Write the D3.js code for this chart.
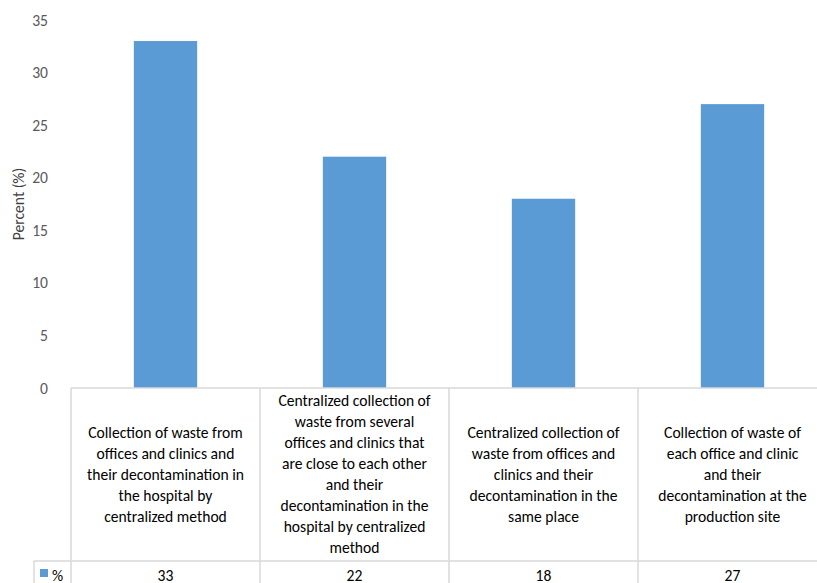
<!DOCTYPE html>
<html lang="en">
<head>
<meta charset="UTF-8"/>
<title>Percent by waste collection method</title>
<script src="https://d3js.org/d3.v7.min.js"></script>
<style>
    body { margin: 0; background: #fff; }
    text { font-family: Carlito, "Liberation Sans", sans-serif; }
</style>
</head>
<body>
<script>
    // Chart data
    var categories = [
        ["Collection of waste from", "offices and clinics and", "their decontamination in", "the hospital by", "centralized method"],
        ["Centralized collection of", "waste from several", "offices and clinics that", "are close to each other", "and their", "decontamination in the", "hospital by centralized", "method"],
        ["Centralized collection of", "waste from offices and", "clinics and their", "decontamination in the", "same place"],
        ["Collection of waste of", "each office and clinic", "and their", "decontamination at the", "production site"]
    ];
    var values = [33, 22, 18, 27];
    var yTicks = [0, 5, 10, 15, 20, 25, 30, 35];
    var seriesName = "%";

    var W = 817, H = 583;
    var plotLeft = 71, plotRight = 827, plotTop = 20, base = 388;
    var tableBottom = 561, legendLeft = 34;
    var fs = "15.6px";

    var svg = d3.select("body").append("svg")
                .attr("width", W)
                .attr("height", H);

    var xScale = d3.scaleBand()
                   .domain(d3.range(values.length))
                   .range([plotLeft, plotRight])
                   .paddingInner(0)
                   .paddingOuter(0);

    var yScale = d3.scaleLinear()
                   .domain([0, 35])
                   .range([base, plotTop]);

    var barW = xScale.bandwidth() * 0.335;

    // y axis labels (no line)
    var yAxis = d3.axisLeft(yScale).tickValues(yTicks).tickSize(0).tickPadding(0);
    var yg = svg.append("g")
                .attr("transform", "translate(" + 48 + ",0)")
                .call(yAxis);
    yg.select(".domain").remove();
    yg.selectAll("text")
      .attr("fill", "#595959")
      .style("font-size", fs)
      .style("font-family", "Carlito, 'Liberation Sans', sans-serif");

    svg.append("text")
       .attr("transform", "translate(24," + ((plotTop + base) / 2) + ") rotate(-90)")
       .attr("text-anchor", "middle")
       .attr("fill", "#404040")
       .style("font-size", fs)
       .text("Percent (%)");

    // bars
    svg.selectAll("rect.bar")
       .data(values)
       .enter()
       .append("rect")
       .attr("class", "bar")
       .attr("x", function(d, i) { return xScale(i) + (xScale.bandwidth() - barW) / 2; })
       .attr("y", function(d) { return yScale(d); })
       .attr("width", barW)
       .attr("height", function(d) { return base - yScale(d); })
       .attr("fill", "#5B9BD5");

    // data table grid
    var grid = svg.append("g").attr("stroke", "#d9d9d9").attr("stroke-width", 1.5);
    grid.append("line").attr("x1", plotLeft).attr("x2", plotRight).attr("y1", base).attr("y2", base);
    grid.append("line").attr("x1", legendLeft).attr("x2", plotRight).attr("y1", tableBottom).attr("y2", tableBottom);
    grid.append("line").attr("x1", legendLeft).attr("x2", legendLeft).attr("y1", tableBottom).attr("y2", H + 5);
    d3.range(values.length + 1).forEach(function(i) {
        var x = i < values.length ? xScale(i) : plotRight;
        grid.append("line").attr("x1", x).attr("x2", x).attr("y1", base).attr("y2", H + 5);
    });

    // category labels
    var lineH = 21;
    var midY = (base + tableBottom) / 2;
    categories.forEach(function(lines, i) {
        var cx = xScale(i) + xScale.bandwidth() / 2;
        var t = svg.append("text")
                   .attr("text-anchor", "middle")
                   .attr("fill", "#000")
                   .style("font-size", fs);
        lines.forEach(function(s, j) {
            t.append("tspan")
             .attr("x", cx)
             .attr("y", midY + (j - (lines.length - 1) / 2) * lineH + 5)
             .text(s);
        });
    });

    // values row
    svg.selectAll("text.val")
       .data(values)
       .enter()
       .append("text")
       .attr("class", "val")
       .attr("x", function(d, i) { return xScale(i) + xScale.bandwidth() / 2; })
       .attr("y", 581)
       .attr("text-anchor", "middle")
       .attr("fill", "#000")
       .style("font-size", fs)
       .text(function(d) { return d; });

    // legend key
    svg.append("rect")
       .attr("x", 40).attr("y", 569).attr("width", 8).attr("height", 8)
       .attr("fill", "#5B9BD5");
    svg.append("text")
       .attr("x", 52).attr("y", 581)
       .attr("fill", "#000")
       .style("font-size", fs)
       .text(seriesName);
</script>
</body>
</html>
